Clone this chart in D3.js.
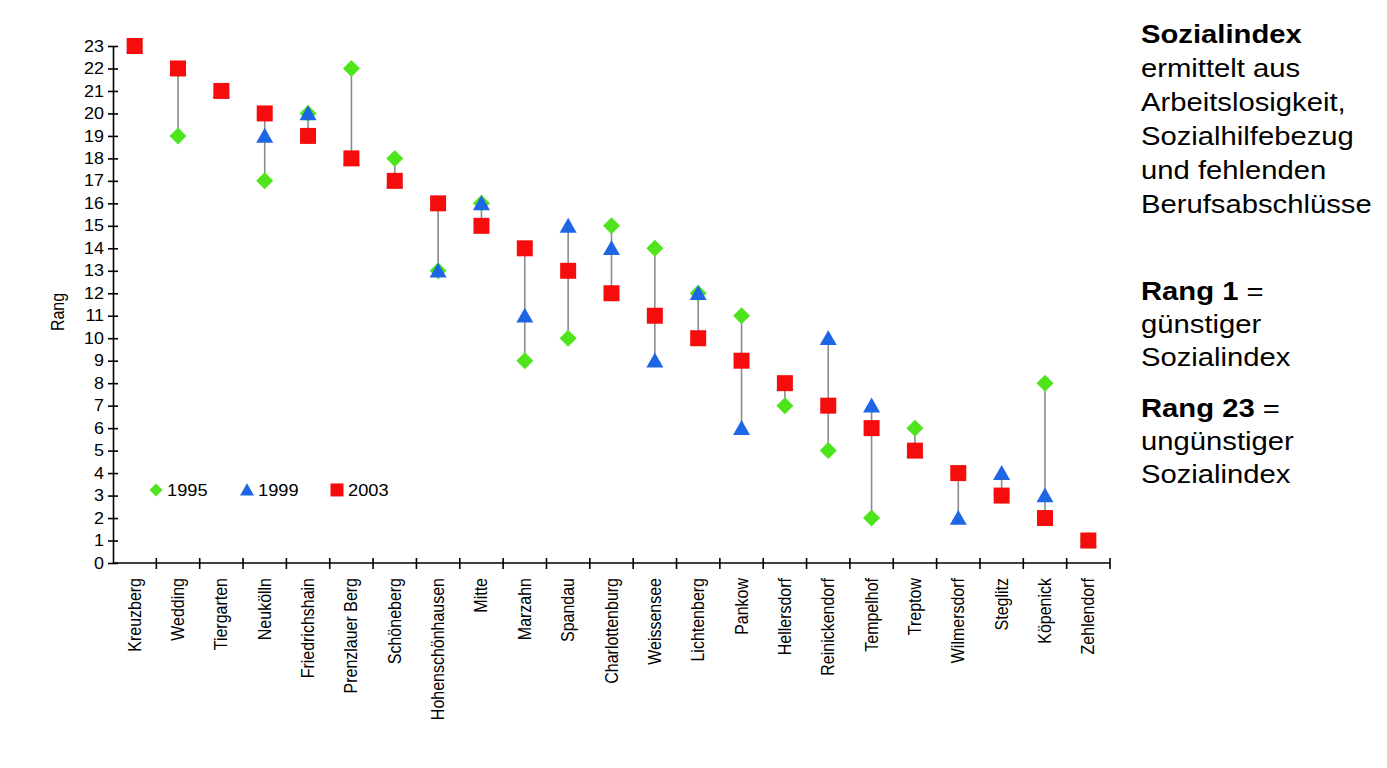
<!DOCTYPE html>
<html>
<head>
<meta charset="utf-8">
<script src="https://d3js.org/d3.v7.min.js"></script>
<style>
  body { margin: 0; background: #fff; }
  text { font-family: "Liberation Sans", Arial, Helvetica, sans-serif; }
</style>
</head>
<body>
<div id="chart"></div>
<script>
// Bezirke, sortiert nach Rang 2003
var districts = ["Kreuzberg", "Wedding", "Tiergarten", "Neukölln", "Friedrichshain",
    "Prenzlauer Berg", "Schöneberg", "Hohenschönhausen", "Mitte", "Marzahn", "Spandau",
    "Charlottenburg", "Weissensee", "Lichtenberg", "Pankow", "Hellersdorf", "Reinickendorf",
    "Tempelhof", "Treptow", "Wilmersdorf", "Steglitz", "Köpenick", "Zehlendorf"];

var rank1995 = [23, 19, 21, 17, 20, 22, 18, 13, 16, 9, 10, 15, 14, 12, 11, 7, 5, 2, 6, 4, 3, 8, 1];
var rank1999 = [23, 22, 21, 19, 20, 18, 17, 13, 16, 11, 15, 14, 9, 12, 6, 8, 10, 7, 5, 2, 4, 3, 1];
var rank2003 = [23, 22, 21, 20, 19, 18, 17, 16, 15, 14, 13, 12, 11, 10, 9, 8, 7, 6, 5, 4, 3, 2, 1];

var yTicks = d3.range(0, 24);
var years = ["1995", "1999", "2003"];

var width = 1387,
    height = 768;

var mLeft = 113, mRight = 1110, mTop = 46, mBottom = 563;

var svg = d3.select("#chart")
    .append("svg")
    .attr("width", width)
    .attr("height", height);

var x = d3.scaleBand()
    .domain(districts)
    .range([mLeft, mRight]);

var y = d3.scaleLinear()
    .domain([0, 23])
    .range([mBottom, mTop]);

var green = "#4fe51c", blue = "#1f66e5", red = "#f50d0d";

// range lines
var rows = districts.map(function(d, i) {
    return {name: d, a: rank1995[i], b: rank1999[i], c: rank2003[i]};
});

svg.append("g")
    .selectAll("line")
    .data(rows)
    .enter().append("line")
    .attr("x1", function(d) { return x(d.name) + x.bandwidth() / 2; })
    .attr("x2", function(d) { return x(d.name) + x.bandwidth() / 2; })
    .attr("y1", function(d) { return y(Math.min(d.a, d.b, d.c)); })
    .attr("y2", function(d) { return y(Math.max(d.a, d.b, d.c)); })
    .attr("stroke", "#8c8c8c")
    .attr("stroke-width", 1.6);

// y axis
var yAxis = svg.append("g")
    .attr("transform", "translate(" + mLeft + ",0)")
    .call(d3.axisLeft(y).tickValues(yTicks).tickSize(5).tickSizeOuter(0));
yAxis.selectAll(".tick line").attr("x1", 5).attr("x2", -5);
// the original glyphs are a bit wider
yAxis.selectAll("text").attr("font-size", 16).attr("fill", "#000")
    .attr("font-family", "Liberation Sans, Arial, sans-serif")
    .attr("x", 0).attr("transform", "translate(-9,0) scale(1.12,1)");
yAxis.selectAll("path, line").attr("stroke", "#000").attr("stroke-width", 1.6);

// x axis, ticks on category boundaries
var xAxis = svg.append("g")
    .attr("transform", "translate(0," + mBottom + ")");
xAxis.append("line")
    .attr("x1", mLeft).attr("x2", mRight)
    .attr("stroke", "#000").attr("stroke-width", 1.6);
xAxis.selectAll(".bt")
    .data(districts)
    .enter().append("line")
    .attr("x1", function(d) { return x(d) + x.bandwidth(); })
    .attr("x2", function(d) { return x(d) + x.bandwidth(); })
    .attr("y1", -5).attr("y2", 6)
    .attr("stroke", "#000").attr("stroke-width", 1.6);
xAxis.selectAll("text")
    .data(districts)
    .enter().append("text")
    .attr("transform", function(d) {
        return "translate(" + (x(d) + x.bandwidth() / 2 + 6) + ",15) rotate(-90) scale(1,1.1)";
    })
    .attr("text-anchor", "end")
    .attr("font-size", 16)
    .text(function(d) { return d; });

svg.append("text")
    .attr("transform", "translate(64,312) rotate(-90) scale(1,1.1)")
    .attr("text-anchor", "middle")
    .attr("font-size", 16)
    .text("Rang");

// marker shapes
function diamond(s) { return "M0," + (-s) + "L" + s + ",0L0," + s + "L" + (-s) + ",0Z"; }
function triangle(s) { return "M0," + (-s * 0.95) + "L" + s + "," + (s * 0.8) + "L" + (-s) + "," + (s * 0.8) + "Z"; }
function square(s) { return "M" + (-s) + "," + (-s) + "h" + (2 * s) + "v" + (2 * s) + "h" + (-2 * s) + "Z"; }

var series = [
    {vals: rank1995, path: diamond(8.5), color: green},
    {vals: rank1999, path: triangle(8.5), color: blue},
    {vals: rank2003, path: square(8), color: red}
];

series.forEach(function(s) {
    svg.append("g")
        .selectAll("path")
        .data(s.vals)
        .enter().append("path")
        .attr("transform", function(d, i) {
            return "translate(" + (x(districts[i]) + x.bandwidth() / 2) + "," + y(d) + ")";
        })
        .attr("d", s.path)
        .attr("fill", s.color);
});

// legend
var legendX = [156, 247, 337];
var legend = svg.append("g");
series.forEach(function(s, i) {
    legend.append("path")
        .attr("transform", "translate(" + legendX[i] + "," + (y(3.25)) + ")")
        .attr("d", i == 0 ? diamond(6.5) : i == 1 ? triangle(7) : square(6.5))
        .attr("fill", s.color);
    legend.append("text")
        .attr("transform", "translate(" + (legendX[i] + 11) + "," + (y(3.25) + 6) + ") scale(1.14,1)")
        .attr("font-size", 16)
        .text(years[i]);
});

// text on the right
var note = [
    {t: "Sozialindex", b: true, y: 43},
    {t: "ermittelt aus", y: 77},
    {t: "Arbeitslosigkeit,", y: 111},
    {t: "Sozialhilfebezug", y: 145},
    {t: "und fehlenden", y: 179},
    {t: "Berufsabschlüsse", y: 213},
    {t: "günstiger", y: 333},
    {t: "Sozialindex", y: 366},
    {t: "ungünstiger", y: 450},
    {t: "Sozialindex", y: 483}
];
var noteG = svg.append("g")
    .attr("transform", "translate(1141,0) scale(1.17,1)");
noteG.selectAll(".note")
    .data(note)
    .enter().append("text")
    .attr("x", 0)
    .attr("y", function(d) { return d.y; })
    .attr("font-size", 25)
    .attr("font-weight", function(d) { return d.b ? "bold" : "normal"; })
    .text(function(d) { return d.t; });

[["Rang 1", 300], ["Rang 23", 417]].forEach(function(r) {
    var t = noteG.append("text").attr("x", 0).attr("y", r[1]).attr("font-size", 25);
    t.append("tspan").attr("font-weight", "bold").text(r[0]);
    t.append("tspan").text(" =");
});
</script>
</body>
</html>
